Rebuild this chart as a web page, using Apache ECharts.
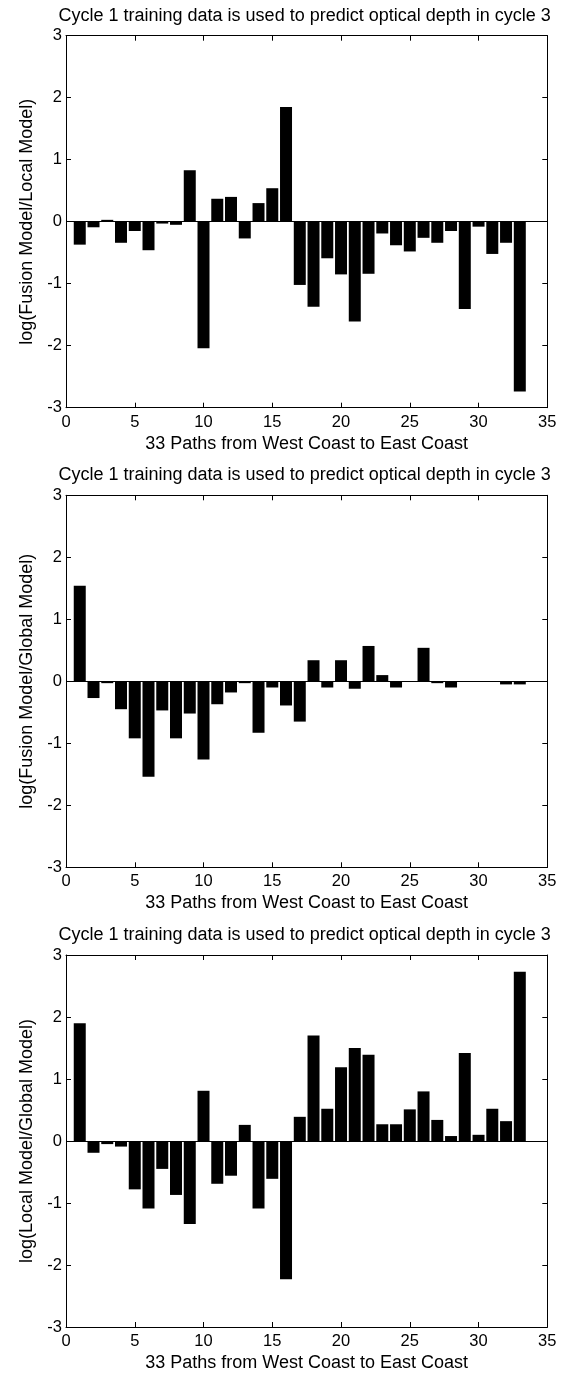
<!DOCTYPE html>
<html>
<head>
<meta charset="utf-8">
<script src="https://cdn.jsdelivr.net/npm/echarts@6/dist/echarts.min.js"></script>
<style>
html,body{margin:0;padding:0;background:#fff;}
#c{width:565px;height:1377px;}
</style>
</head>
<body>
<div id="c"></div>
<script>
const paths = Array.from({length:33},(_,i)=>i+1);
const titleText = 'Cycle 1 training data is used to predict optical depth in cycle 3';
const xName = '33 Paths from West Coast to East Coast';
const yNames = ['log(Fusion Model/Local Model)','log(Fusion Model/Global Model)','log(Local Model/Global Model)'];
const xTickLabels = [0,5,10,15,20,25,30,35];
const yTickLabels = [-3,-2,-1,0,1,2,3];

const fusionLocal = [-0.37,-0.09,0.03,-0.34,-0.15,-0.46,-0.03,-0.05,0.83,-2.04,
  0.37,0.40,-0.27,0.30,0.54,1.85,-1.02,-1.37,-0.59,-0.85,
  -1.61,-0.84,-0.19,-0.38,-0.48,-0.26,-0.34,-0.15,-1.41,-0.08,
  -0.52,-0.34,-2.74];
const fusionGlobal = [1.54,-0.27,-0.03,-0.45,-0.92,-1.54,-0.47,-0.92,-0.52,-1.26,
  -0.37,-0.18,-0.03,-0.83,-0.10,-0.39,-0.65,0.34,-0.10,0.34,
  -0.12,0.57,0.10,-0.10,0,0.54,-0.03,-0.10,0,0,
  0,-0.05,-0.05];
const localGlobal = [1.90,-0.19,-0.05,-0.09,-0.78,-1.09,-0.45,-0.87,-1.34,0.81,
  -0.69,-0.56,0.26,-1.09,-0.61,-2.23,0.39,1.70,0.52,1.19,
  1.50,1.39,0.27,0.27,0.51,0.80,0.34,0.08,1.42,0.10,
  0.52,0.32,2.73];
const seriesData = [fusionLocal, fusionGlobal, localGlobal];

const FONT = 'Liberation Sans, Arial, sans-serif';
const gridTops = [35.7, 495.3, 955];
const plotLeft = 66, plotW = 481.3, plotH = 372;

const grids = [], xAxes = [], yAxes = [], series = [], titles = [];
for (let k=0;k<3;k++){
  grids.push({left:plotLeft, top:gridTops[k], width:plotW, height:plotH});
  titles.push({text:titleText, left:plotLeft+plotW/2-7, top:gridTops[k]-34, textAlign:'center',
    textStyle:{fontFamily:FONT, fontSize:18, fontWeight:'normal', color:'#000'}});
  const xmin = xTickLabels[0], xmax = xTickLabels[xTickLabels.length-1];
  const ymin = yTickLabels[0], ymax = yTickLabels[yTickLabels.length-1];
  xAxes.push({gridIndex:k, type:'value', min:xmin, max:xmax, interval:5, position:'bottom',
    axisLine:{show:true, onZero:false, lineStyle:{color:'#000', width:1}},
    axisTick:{show:true, inside:true, length:5, lineStyle:{color:'#000'}},
    axisLabel:{color:'#000', fontFamily:FONT, fontSize:16.5, margin:6},
    splitLine:{show:false},
    name:xName, nameLocation:'middle', nameGap:27,
    nameTextStyle:{color:'#000', fontFamily:FONT, fontSize:18}});
  xAxes.push({gridIndex:k, type:'value', min:xmin, max:xmax, interval:5, position:'top',
    axisLine:{show:true, onZero:false, lineStyle:{color:'#000', width:1}},
    axisTick:{show:true, inside:true, length:5, lineStyle:{color:'#000'}},
    axisLabel:{show:false}, splitLine:{show:false}});
  yAxes.push({gridIndex:k, type:'value', min:ymin, max:ymax, interval:1, position:'left',
    axisLine:{show:true, onZero:false, lineStyle:{color:'#000', width:1}},
    axisTick:{show:true, inside:true, length:5, lineStyle:{color:'#000'}},
    axisLabel:{color:'#000', fontFamily:FONT, fontSize:16.5, margin:4},
    splitLine:{show:false},
    name:yNames[k], nameLocation:'middle', nameGap:28, nameRotate:90,
    nameTextStyle:{color:'#000', fontFamily:FONT, fontSize:18}});
  yAxes.push({gridIndex:k, type:'value', min:ymin, max:ymax, interval:1, position:'right',
    axisLine:{show:true, onZero:false, lineStyle:{color:'#000', width:1}},
    axisTick:{show:true, inside:true, length:5, lineStyle:{color:'#000'}},
    axisLabel:{show:false}, splitLine:{show:false}});
  series.push({type:'bar', xAxisIndex:2*k, yAxisIndex:2*k, barWidth:12,
    data: paths.map((p,i)=>[p, seriesData[k][i]]),
    itemStyle:{color:'#000'}, silent:true, animation:false,
    markLine:{silent:true, symbol:'none', label:{show:false},
      lineStyle:{color:'#000', width:1, type:'solid'}, data:[{yAxis:0}]}});
}

const chart = echarts.init(document.getElementById('c'), null, {renderer:'canvas'});
chart.setOption({
  animation:false,
  backgroundColor:'#fff',
  title:titles, grid:grids, xAxis:xAxes, yAxis:yAxes, series:series
});
</script>
</body>
</html>
